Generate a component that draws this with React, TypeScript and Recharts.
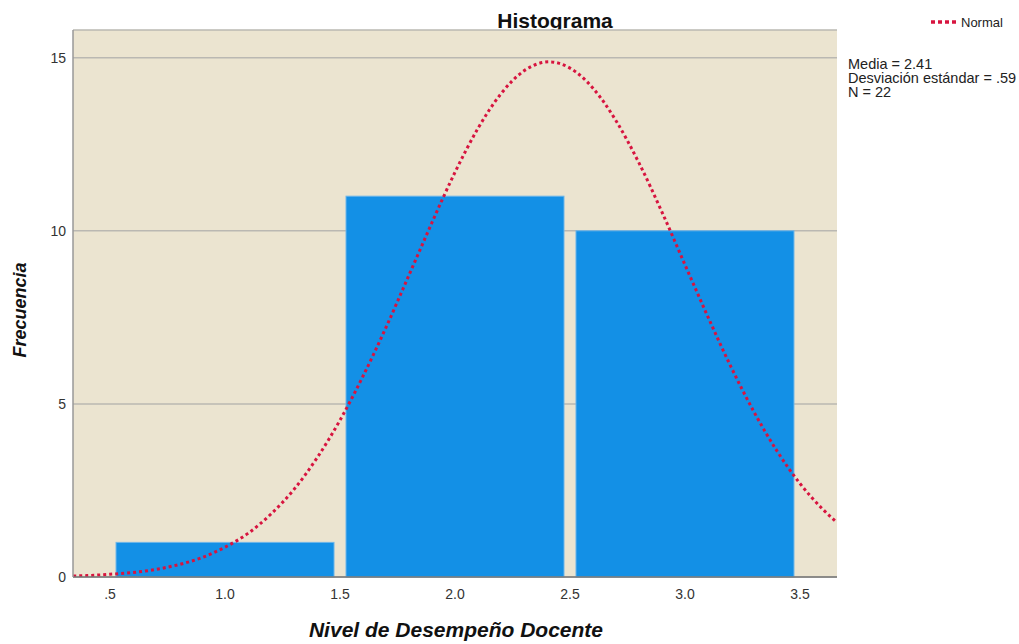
import { CartesianGrid, ComposedChart, Line, ReferenceArea, XAxis, YAxis } from "recharts"

// histogram bins (lower edge, upper edge, count)
const binLower = [0.5, 1.5, 2.5]
const binUpper = [1.5, 2.5, 3.5]
const binCount = [1, 11, 10]

// normal curve (Media = 2.41, sd = .59, N = 22)
const curveX = [0.34, 0.4, 0.5, 0.6, 0.7, 0.8, 0.9, 1.0, 1.1, 1.2, 1.3, 1.4, 1.5, 1.6, 1.7, 1.8, 1.9, 2.0, 2.1, 2.2, 2.3, 2.41, 2.5, 2.6, 2.7, 2.8, 2.9, 3.0, 3.1, 3.2, 3.3, 3.4, 3.5, 3.6, 3.66]
const curveY = [0.03, 0.04, 0.08, 0.13, 0.22, 0.36, 0.56, 0.86, 1.26, 1.82, 2.53, 3.44, 4.53, 5.8, 7.21, 8.72, 10.24, 11.69, 12.96, 13.96, 14.62, 14.88, 14.7, 14.12, 13.18, 11.96, 10.54, 9.02, 7.51, 6.07, 4.77, 3.64, 2.7, 1.95, 1.58]

const xTicks = [0.5, 1.0, 1.5, 2.0, 2.5, 3.0, 3.5]
const yTicks = [0, 5, 10, 15]
const statLines = ["Media = 2.41", "Desviación estándar = .59", "N = 22"]

const data = curveX.map((x, i) => ({ x, normal: curveY[i] }))

const font = "'Liberation Sans', Arial, sans-serif"
const barGap = 6

function BinRect(props: any) {
    const { x, y, width, height } = props
    return (
        <rect
            x={x + barGap}
            y={y}
            width={width - barGap * 2}
            height={height}
            fill="#1390e6"
            stroke="#6db6ea"
            strokeWidth={1}
        />
    )
}

export default function App() {
    return (
        <div style={{ position: "absolute", left: 0, top: 0, width: 1019, height: 644, background: "#fff", fontFamily: font }}>
            {/* title sits behind the plot area */}
            <div style={{ position: "absolute", left: 455, top: 10, width: 200, textAlign: "center", fontSize: 21, lineHeight: "21px", fontWeight: "bold", color: "#111" }}>
                Histograma
            </div>

            <div style={{ position: "absolute", left: 0, top: 0 }}>
                <ComposedChart width={1019} height={644} data={data} margin={{ top: 30, right: 182, bottom: 37, left: 0 }}>
                    <CartesianGrid vertical={false} fill="#ebe4d0" stroke="#bab8b2" strokeWidth={1.5} />
                    <XAxis
                        dataKey="x"
                        type="number"
                        domain={[0.339, 3.661]}
                        allowDataOverflow
                        ticks={xTicks}
                        tickFormatter={(v: number) => (v === 0.5 ? ".5" : v.toFixed(1))}
                        tickLine={false}
                        tickSize={9}
                        tickMargin={3}
                        height={30}
                        axisLine={{ stroke: "#777", strokeWidth: 1.5 }}
                        tick={{ fill: "#333", fontSize: 14, fontFamily: font }}
                    />
                    <YAxis
                        type="number"
                        domain={[0, 15.8]}
                        allowDataOverflow
                        ticks={yTicks}
                        width={73}
                        tickLine={false}
                        tickSize={5}
                        tickMargin={2}
                        axisLine={{ stroke: "#999", strokeWidth: 1.5 }}
                        tick={{ fill: "#333", fontSize: 14, fontFamily: font }}
                    />
                    {binCount.map((c, i) => (
                        <ReferenceArea
                            key={i}
                            x1={binLower[i]}
                            x2={binUpper[i]}
                            y1={0}
                            y2={c}
                            shape={<BinRect />}
                        />
                    ))}
                    <Line
                        dataKey="normal"
                        type="monotone"
                        stroke="#d7143f"
                        strokeWidth={3}
                        strokeDasharray="3 3"
                        dot={false}
                        activeDot={false}
                        isAnimationActive={false}
                    />
                </ComposedChart>
            </div>

            {/* legend */}
            <svg style={{ position: "absolute", left: 930, top: 18 }} width={28} height={8}>
                <line x1={1} y1={4} x2={27} y2={4} stroke="#d7143f" strokeWidth={3.5} strokeDasharray="4 3" />
            </svg>
            <div style={{ position: "absolute", left: 961, top: 16, fontSize: 13, lineHeight: "13px", color: "#222" }}>Normal</div>

            {/* stats */}
            <div style={{ position: "absolute", left: 848, top: 57, fontSize: 14.5, lineHeight: "14px", color: "#222" }}>
                {statLines.map((s) => (
                    <div key={s}>{s}</div>
                ))}
            </div>

            {/* axis titles */}
            <div style={{ position: "absolute", left: 256, top: 619, width: 400, textAlign: "center", fontSize: 21, lineHeight: "21px", fontWeight: "bold", fontStyle: "italic", color: "#111" }}>
                Nivel de Desempeño Docente
            </div>
            <div style={{ position: "absolute", left: -80, top: 300, width: 200, height: 20, textAlign: "center", fontSize: 18, lineHeight: "20px", fontWeight: "bold", fontStyle: "italic", color: "#111", transform: "rotate(-90deg)" }}>
                Frecuencia
            </div>
        </div>
    )
}
